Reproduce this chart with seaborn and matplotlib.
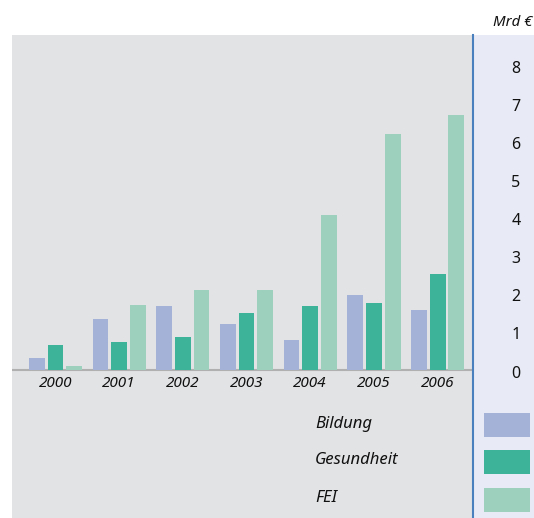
import numpy as np
import pandas as pd
import matplotlib
matplotlib.use("Agg")
import matplotlib.pyplot as plt
import seaborn as sns
from matplotlib.patches import Rectangle
from matplotlib.transforms import blended_transform_factory

# ---- data ----
years = ["2000", "2001", "2002", "2003", "2004", "2005", "2006"]
bildung = [0.32, 1.32, 1.66, 1.19, 0.79, 1.97, 1.58]
gesundheit = [0.64, 0.74, 0.85, 1.50, 1.66, 1.76, 2.52]
fei = [0.09, 1.69, 2.08, 2.08, 4.07, 6.18, 6.68]
series = ["Bildung", "Gesundheit", "FEI"]
colors = ["#a4b2d8", "#3db39a", "#9dd1be"]
yticks = [0, 1, 2, 3, 4, 5, 6, 7, 8]
unit = "Mrd €"

df = pd.DataFrame({
    "Jahr": years * 3,
    "Wert": bildung + gesundheit + fei,
    "Bereich": np.repeat(series, len(years)),
})

sns.set_style("white")
plt.rcParams["font.family"] = ["Noto Sans", "DejaVu Sans"]

W, H = 534, 518
fig = plt.figure(figsize=(W / 100, H / 100), dpi=100)
fig.patch.set_facecolor("white")


def px(x0, y0, x1, y1):
    return [x0 / W, 1 - y1 / H, (x1 - x0) / W, (y1 - y0) / H]


# right lavender panel (behind the axes)
fig.patches.append(Rectangle((473 / W, 0), (W - 473) / W, (H - 35) / H,
                             transform=fig.transFigure, facecolor="#e8ebf5",
                             edgecolor="none", zorder=-1))

ax = fig.add_axes(px(12, 35, 473, 518))
ax.set_facecolor("#e2e3e5")
sns.barplot(data=df, x="Jahr", y="Wert", hue="Bereich", palette=colors,
            hue_order=series, order=years, width=0.88, gap=0.145,
            saturation=1, legend=False, ax=ax, errorbar=None, zorder=3,
            linewidth=0, edgecolor="none")

ax.set_ylim(-3.892, 8.785)
ax.set_xlim(-0.683, 6.557)
ax.axhline(0, color="#b0b0b0", lw=1.5, zorder=2)

for s in ["top", "left", "bottom"]:
    ax.spines[s].set_visible(False)
ax.spines["right"].set_color("#4a80be")
ax.spines["right"].set_linewidth(1.5)
ax.set_xticks([])
ax.set_yticks([])
ax.set_xlabel("")
ax.set_ylabel("")

# year labels
for i, yr in enumerate(years):
    ax.text(i, -0.462, yr, ha="center", va="baseline", fontsize=11,
            style="italic", color="#111111")

# y tick labels in right panel
tr = blended_transform_factory(fig.transFigure, ax.transData)
for v in yticks:
    ax.text(516 / W, v - 0.205, str(v), transform=tr, ha="center",
            va="baseline", fontsize=11.5, color="#111111", clip_on=False)

fig.text(532 / W, 1 - 26 / H, unit, ha="right", va="baseline",
         fontsize=10.8, style="italic", color="#111111")

# legend
text_base = [427.7, 464.0, 501.7]
box_top = [413, 450, 488]
for name, col, tb, bt in zip(series, colors, text_base, box_top):
    fig.text(315 / W, 1 - tb / H, name, ha="left", va="baseline",
             fontsize=12, style="italic", color="#111111")
    fig.patches.append(Rectangle((484 / W, 1 - (bt + 24) / H), 46 / W, 24 / H,
                                 transform=fig.transFigure, facecolor=col,
                                 edgecolor="none", zorder=2))

fig.savefig("out.png", dpi=100)
